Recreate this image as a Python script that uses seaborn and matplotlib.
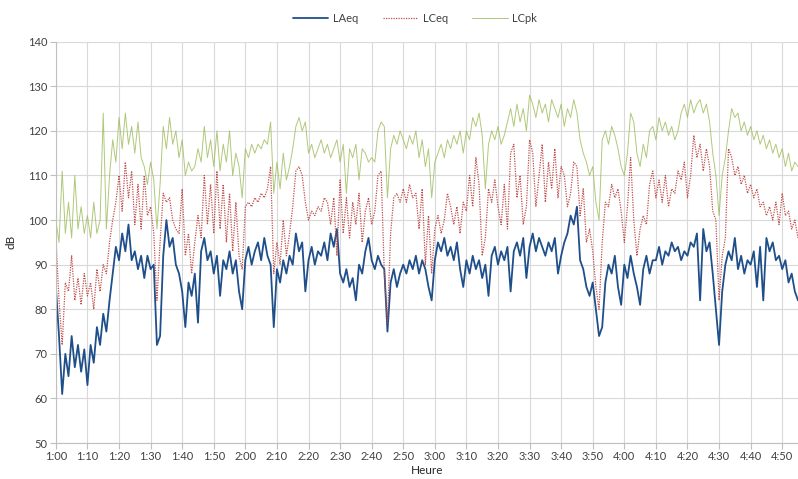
import matplotlib
matplotlib.use("Agg")
import matplotlib.pyplot as plt
from matplotlib.ticker import FixedLocator, FuncFormatter
import numpy as np
import pandas as pd
import seaborn as sns

# Sound levels in dB, one reading per minute starting at 1:00
laeq = [
    85, 74, 61, 70, 65, 74, 67, 72, 66, 71,
    63, 72, 68, 76, 72, 79, 75, 82, 88, 94,
    91, 97, 93, 99, 91, 93, 89, 92, 87, 92,
    89, 90, 72, 74, 92, 100, 94, 96, 90, 88,
    84, 76, 86, 83, 88, 77, 93, 96, 91, 93,
    88, 92, 83, 91, 89, 93, 88, 91, 84, 80,
    91, 94, 90, 93, 95, 91, 96, 92, 90, 76,
    89, 86, 91, 88, 92, 90, 97, 93, 95, 84,
    91, 94, 90, 93, 92, 95, 91, 97, 94, 98,
    88, 86, 89, 85, 87, 82, 90, 88, 93, 96,
    91, 89, 92, 90, 89, 75, 86, 89, 85, 88,
    90, 88, 91, 89, 92, 88, 91, 89, 85, 82,
    91, 95, 93, 96, 92, 94, 91, 95, 89, 85,
    91, 88, 92, 89, 91, 87, 90, 83, 92, 94,
    90, 93, 91, 94, 84, 93, 95, 92, 96, 87,
    94, 97, 93, 96, 94, 92, 95, 93, 96, 88,
    92, 95, 97, 101, 99, 103, 91, 89, 85, 83,
    86, 80, 74, 76, 86, 90, 88, 92, 85, 81,
    90, 87, 92, 88, 85, 81, 89, 92, 88, 91,
    91, 94, 90, 93, 92, 95, 93, 94, 91, 93,
    92, 95, 94, 97, 82, 98, 93, 95, 88, 80,
    72, 84, 90, 93, 91, 96, 89, 92, 88, 91,
    90, 93, 85, 94, 82, 96, 93, 95, 91, 92,
    89, 91, 86, 88, 84, 82,
]
lceq = [
    96, 82, 72, 86, 84, 92, 82, 87, 81, 88,
    83, 86, 80, 89, 84, 90, 88, 95, 100, 104,
    110, 102, 113, 105, 111, 99, 108, 98, 110, 101,
    103, 97, 82, 95, 106, 104, 105, 100, 98, 97,
    107, 92, 97, 88, 95, 101, 96, 110, 99, 108,
    97, 111, 98, 108, 95, 106, 93, 104, 92, 89,
    103, 104, 103, 105, 104, 106, 105, 107, 112, 88,
    95, 90, 100, 92, 97, 103, 111, 112, 110, 104,
    100, 102, 101, 103, 102, 105, 104, 99, 105, 92,
    109, 97, 105, 96, 104, 99, 106, 95, 102, 105,
    99, 102, 110, 111, 88, 77, 97, 105, 106, 104,
    107, 104, 108, 105, 106, 98, 107, 90, 101, 88,
    98, 101, 97, 100, 106, 103, 99, 103, 97, 104,
    102, 110, 103, 114, 108, 92, 96, 107, 104, 109,
    103, 99, 108, 98, 115, 117, 105, 110, 99, 103,
    118, 115, 103, 110, 117, 104, 113, 107, 116, 105,
    112, 110, 103, 106, 113, 112, 101, 107, 95, 98,
    93, 85, 80, 95, 104, 103, 108, 105, 107, 102,
    95, 103, 114, 100, 92, 98, 101, 99, 108, 111,
    105, 109, 104, 110, 103, 107, 106, 111, 109, 113,
    105, 110, 119, 114, 117, 111, 116, 112, 102, 100,
    82, 92, 96, 116, 114, 110, 112, 108, 110, 106,
    108, 105, 107, 103, 104, 101, 103, 100, 104, 99,
    106, 101, 102, 98, 100, 96,
]
lcpk = [
    100, 95, 111, 97, 104, 96, 110, 98, 103, 97,
    101, 96, 104, 97, 100, 124, 98, 110, 118, 113,
    123, 116, 124, 117, 121, 115, 122, 114, 112, 108,
    113, 109, 98, 108, 121, 116, 123, 117, 120, 114,
    118, 110, 113, 111, 112, 116, 113, 121, 114, 118,
    112, 120, 111, 117, 113, 120, 110, 115, 112, 105,
    116, 114, 117, 115, 117, 116, 118, 117, 122, 106,
    113, 107, 115, 109, 112, 116, 121, 123, 120, 122,
    115, 117, 114, 116, 118, 115, 117, 114, 116, 118,
    113, 117, 106, 116, 114, 117, 109, 116, 115, 113,
    114, 113, 120, 122, 121, 105, 116, 119, 117, 120,
    118, 116, 119, 117, 120, 114, 118, 112, 116, 105,
    113, 115, 117, 114, 118, 116, 119, 117, 120, 115,
    120, 118, 123, 121, 124, 119, 107, 117, 120, 118,
    121, 117, 119, 122, 125, 121, 126, 122, 125, 120,
    128, 126, 123, 127, 124, 126, 122, 127, 125, 123,
    126, 121, 125, 123, 127, 124, 118, 115, 113, 110,
    112, 104, 100, 118, 120, 117, 121, 119, 116, 112,
    110, 115, 124, 122, 115, 112, 117, 114, 120, 121,
    118, 123, 120, 122, 119, 121, 118, 120, 124, 126,
    123, 127, 124, 126, 127, 124, 126, 122, 115, 110,
    101, 110, 114, 120, 125, 123, 124, 120, 122, 119,
    121, 118, 120, 117, 119, 116, 118, 115, 117, 114,
    116, 112, 115, 111, 113, 112,
]
start_hour = 1
tick_minutes = list(range(0, 231, 10))
y_ticks = list(range(50, 141, 10))

minutes = np.arange(len(laeq))
df = pd.DataFrame({"minute": minutes, "LAeq": laeq, "LCeq": lceq, "LCpk": lcpk})

sns.set_theme(style="white")
plt.rcParams["font.family"] = ["Lato", "DejaVu Sans"]

fig = plt.figure(figsize=(7.98, 4.79), dpi=100)
ax = fig.add_axes([0.070, 0.075, 0.930, 0.838])

grid_c = "#d9d9d9"
sns.lineplot(data=df, x="minute", y="LAeq", ax=ax, color="#1f4f8a",
             linewidth=1.3, label="LAeq")
sns.lineplot(data=df, x="minute", y="LCeq", ax=ax, color="#c0504d",
             linewidth=0.9, linestyle=(0, (1, 1)), label="LCeq")
sns.lineplot(data=df, x="minute", y="LCpk", ax=ax, color="#9bbb59",
             linewidth=0.7, alpha=0.8, label="LCpk")

ax.set_xlim(0, 235)
ax.set_ylim(50, 140)
ax.xaxis.set_major_locator(FixedLocator(tick_minutes))
ax.xaxis.set_major_formatter(
    FuncFormatter(lambda v, _: f"{start_hour + int(v) // 60}:{int(v) % 60:02d}"))
ax.set_yticks(y_ticks)
ax.grid(True, color=grid_c, linewidth=0.8)
ax.set_axisbelow(True)
for side in ("top", "right"):
    ax.spines[side].set_visible(False)
for side in ("left", "bottom"):
    ax.spines[side].set_color("#bfbfbf")
    ax.spines[side].set_linewidth(0.8)
ax.tick_params(axis="both", which="major", length=4, width=0.8, color="#bfbfbf",
               labelsize=8, labelcolor="#404040", pad=2, direction="out",
               bottom=True, left=True)
ax.set_xlabel("Heure", fontsize=8.5, color="#262626", labelpad=2)
ax.set_ylabel("dB", fontsize=8.5, color="#262626", labelpad=8)

handles, labels = ax.get_legend_handles_labels()
ax.legend_.remove()
fig.legend(handles, labels, loc="center", bbox_to_anchor=(0.52, 0.962), ncol=3,
           frameon=False, fontsize=8, handlelength=3.2, columnspacing=2.2,
           handletextpad=0.4, labelcolor="#404040")

fig.savefig("out.png", dpi=100)
